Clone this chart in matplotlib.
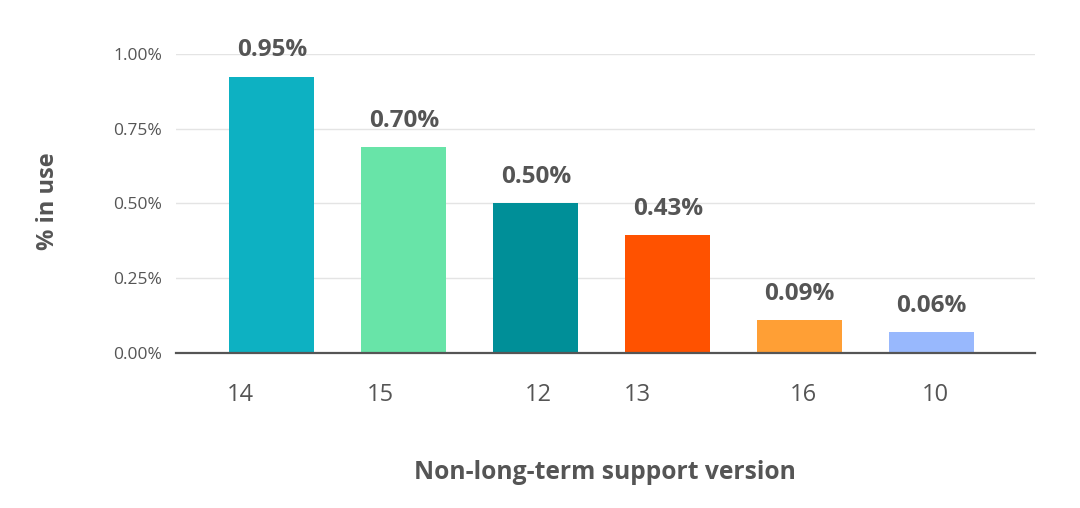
import matplotlib.pyplot as plt
import numpy as np

# versions and share in use (%)
versions = ["14", "15", "12", "13", "16", "10"]
usage = [0.924, 0.688, 0.50, 0.393, 0.109, 0.068]
value_labels = ["0.95%", "0.70%", "0.50%", "0.43%", "0.09%", "0.06%"]
colors = ["#0db1c2", "#68e4a8", "#008f98", "#ff5200", "#ff9f35", "#98b8fd"]
# the tick labels in the original sit a bit off the bar centres
label_shift = [-0.24, -0.18, 0.02, -0.23, 0.03, 0.03]

plt.rcParams['font.family'] = ['Open Sans', 'DejaVu Sans']
grey = "#555555"

fig = plt.figure(figsize=(10.8, 5.08), dpi=100)
ax = fig.add_axes([0.163, 0.3057, 0.795, 0.588])

x = np.arange(len(versions))
ax.bar(x, usage, width=0.644, color=colors, zorder=3)

for xi, h, lab in zip(x, usage, value_labels):
    ax.annotate(lab, (xi, h), xytext=(0, 19), textcoords="offset points",
                ha="center", va="center", fontsize=17.5, fontweight="bold",
                color=grey)

ax.set_xlim(-0.727, 5.78)
ax.set_ylim(0, 1.0)
ax.set_yticks([0, 0.25, 0.5, 0.75, 1.0])
ax.set_yticklabels(["0.00%", "0.25%", "0.50%", "0.75%", "1.00%"])
ax.tick_params(axis="y", length=0, pad=10, labelsize=12.5, labelcolor=grey)
ax.yaxis.grid(True, color="#e4e4e4", linewidth=1, zorder=0)

ax.set_xticks(x + np.array(label_shift))
ax.set_xticklabels(versions)
ax.tick_params(axis="x", length=0, pad=22, labelsize=17, labelcolor=grey)

for s in ["top", "right", "left"]:
    ax.spines[s].set_visible(False)
ax.spines["bottom"].set_color(grey)
ax.spines["bottom"].set_linewidth(1.6)
ax.spines["bottom"].set_zorder(4)

fig.text(0.044, 0.604, "% in use", rotation=90, ha="center", va="center",
         fontsize=17, fontweight="bold", color=grey)
fig.text(0.56, 0.069, "Non-long-term support version", ha="center", va="center",
         fontsize=17.7, fontweight="bold", color=grey)

fig.savefig("out.png", dpi=100)
